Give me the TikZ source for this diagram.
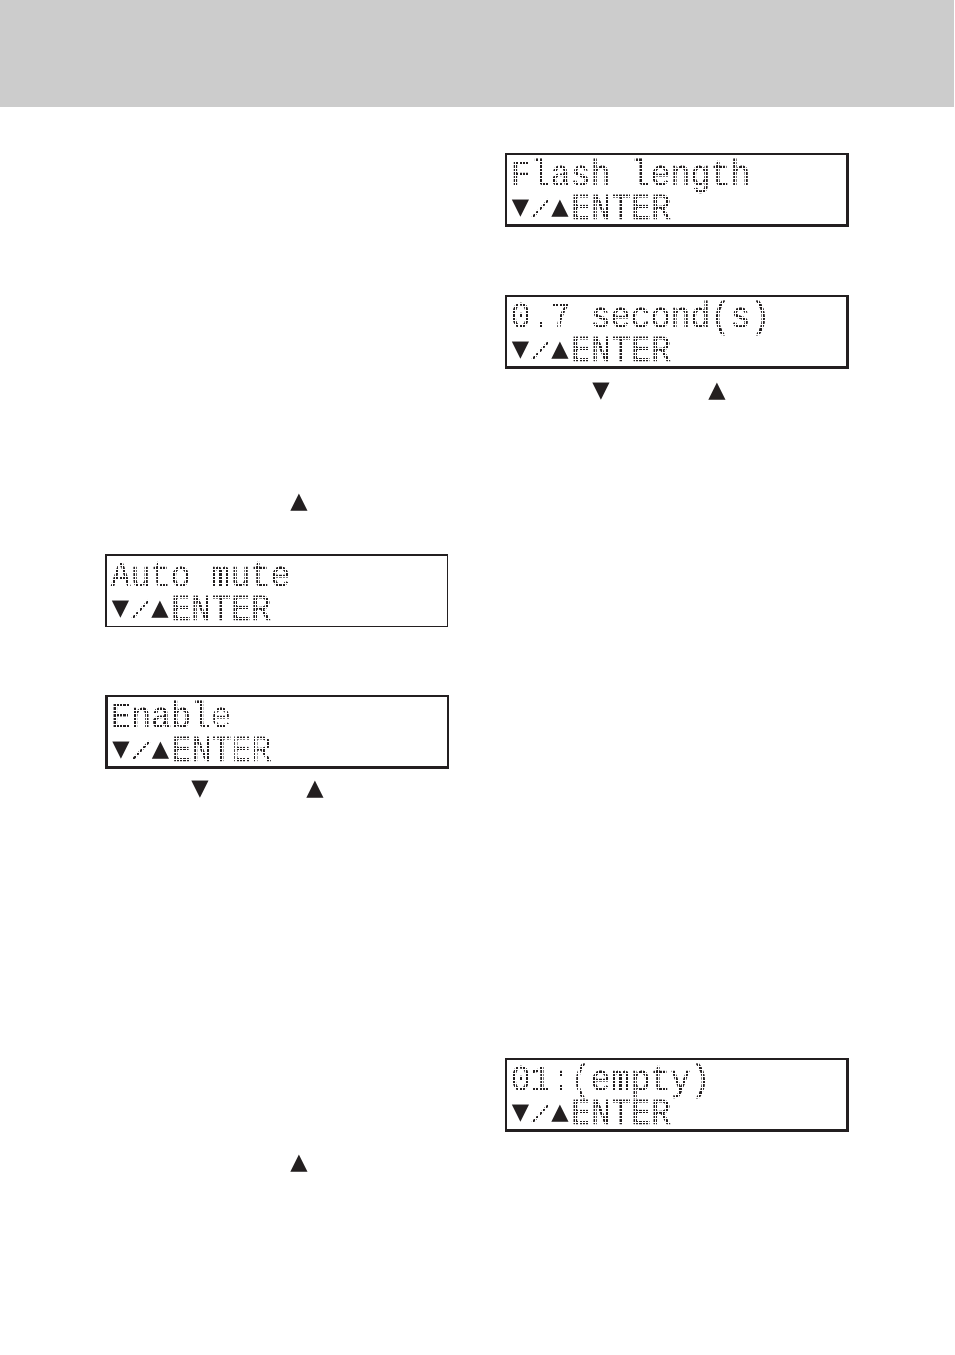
\documentclass[tikz,border=0pt]{standalone}
\usepackage{fontspec}
\newfontfamily\lcdfont[FakeStretch=0.9,FakeBold=0.5]{Liberation Mono}
\newfontfamily\slashfont{Liberation Mono}
\newfontfamily\symfont{DejaVu Sans}
\definecolor{headgray}{HTML}{CCCCCC}
\definecolor{ink}{HTML}{231F20}
\tikzset{
  lcdbox/.style={draw=ink,line width=2.2pt,fill=none},
  thinbox/.style={lcdbox,line width=1.5pt},
  lcdtext/.style={anchor=base west,inner sep=0pt,text=ink,font=\lcdfont\fontsize{37}{40}\selectfont},
  lcdslash/.style={inner sep=0pt,text=ink,rotate=-14,font=\slashfont\fontsize{29}{32}\selectfont},
  tri/.style={inner sep=0pt,text=ink,font=\symfont\fontsize{22.5}{24}\selectfont},
  gridline/.style={draw=white,line width=1.15pt}
}
% #1 name, #2 left x, #3 top y, #4 first line, #5 box style
\newcommand{\lcd}[5]{%
  \node[lcdtext] (#1l1) at (#2+4.5,#3-31.5) {#4};
  \node[lcdslash] (#1sl) at (#2+35,#3-54.5) {/};
  \node[lcdtext] (#1en) at (#2+65,#3-65) {ENTER};
  \foreach \i in {0,...,102} {\draw[gridline] (#2+3+\i*3.33,#3-3) -- (#2+3+\i*3.33,#3-69);}
  \foreach \j in {0,...,19} {\draw[gridline] (#2+3,#3-3.6-\j*3.5) -- (#2+339,#3-3.6-\j*3.5);}
  \node[tri] (#1dn) at (#2+14.5,#3-55) {▼};
  \node[tri] (#1up) at (#2+54,#3-55) {▲};
  \node[#5,inner sep=0pt,outer sep=0pt,anchor=north west,minimum width=341.5pt,minimum height=71.5pt] (#1) at (#2,#3) {};
}
\begin{document}
\begin{tikzpicture}[x=1pt,y=1pt]
\useasboundingbox (0,0) rectangle (954,-1355);
\fill[headgray] (0,0) rectangle (954,-107);
\lcd{flash}{506}{-154}{Flash length}{lcdbox}
\lcd{second}{506}{-296}{0.7 second(s)}{lcdbox}
\lcd{mute}{106}{-555}{Auto mute}{thinbox}
\lcd{enable}{106.5}{-696}{Enable}{lcdbox}
\lcd{empty}{506}{-1059}{01:(empty)}{lcdbox}
\node[tri] (a1) at (299,-503) {▲};
\node[tri] (a2) at (601,-392) {▼};
\node[tri] (a3) at (717,-392) {▲};
\node[tri] (a4) at (200,-790) {▼};
\node[tri] (a5) at (315,-790) {▲};
\node[tri] (a6) at (299,-1164) {▲};
\end{tikzpicture}
\end{document}
